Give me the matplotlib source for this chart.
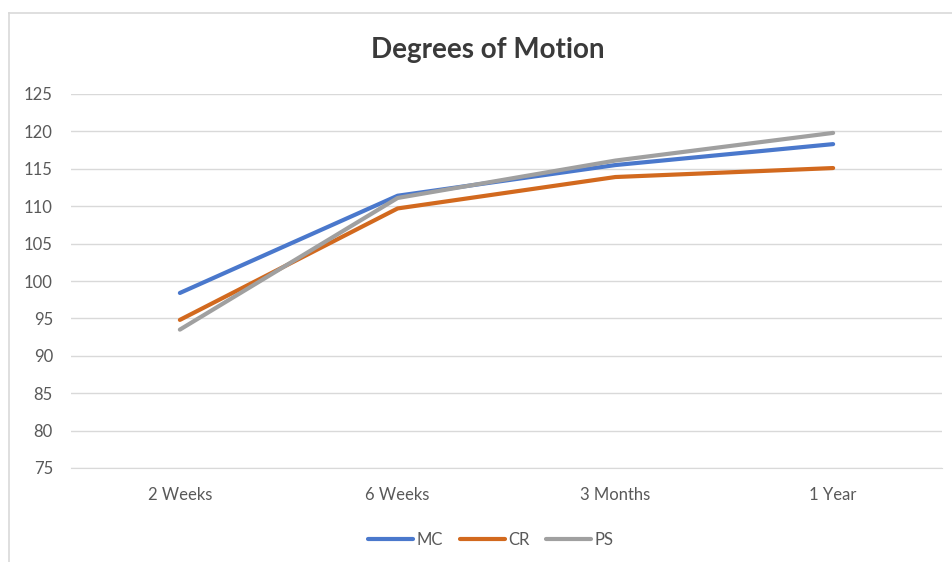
import numpy as np
import matplotlib
matplotlib.use("Agg")
import matplotlib.pyplot as plt
from matplotlib.lines import Line2D

categories = ["2 Weeks", "6 Weeks", "3 Months", "1 Year"]
mc = [98.4, 111.4, 115.5, 118.3]
cr = [94.8, 109.7, 113.9, 115.1]
ps = [93.5, 111.1, 116.1, 119.8]
series_names = ["MC", "CR", "PS"]
colors = ["#4A78CC", "#D2691E", "#A0A0A0"]

plt.rcParams['font.family'] = ['Lato', 'DejaVu Sans']

fig = plt.figure(figsize=(9.53, 5.62), dpi=100)
ax = fig.add_axes([71 / 953, 1 - 468 / 562, (942 - 71) / 953, (468 - 94) / 562])

x = np.arange(len(categories))
for vals, name, c in zip([mc, cr, ps], series_names, colors):
    ax.plot(x, vals, color=c, lw=3, label=name, solid_capstyle="round")

ax.set_xlim(-0.5, len(categories) - 0.5)
ax.set_ylim(75, 125)
ax.set_yticks(np.arange(75, 126, 5))
ax.set_xticks(x)
ax.set_xticklabels(categories)
ax.yaxis.grid(True, color="#D9D9D9", lw=1)
ax.set_axisbelow(True)
for s in ["top", "right", "left"]:
    ax.spines[s].set_visible(False)
ax.spines["bottom"].set_color("#D9D9D9")
ax.tick_params(axis="both", length=0, labelsize=12, colors="#595959")
ax.tick_params(axis="y", pad=13)
ax.tick_params(axis="x", pad=14)

fig.text(0.512, 1 - 50 / 562, "Degrees of Motion", ha="center", va="center",
         fontsize=20, fontweight="bold", color="#3A3A3A")

leg = fig.legend(loc="center", bbox_to_anchor=(0.515, 1 - 540 / 562), ncol=3,
                 frameon=False, fontsize=12, handlelength=2.7,
                 handletextpad=0.2, columnspacing=1.0)
for t in leg.get_texts():
    t.set_color("#595959")

# outer chart border (left and top edges visible)
fig.add_artist(Line2D([9 / 953, 9 / 953], [0, 1 - 13 / 562], color="#D9D9D9", lw=1.2))
fig.add_artist(Line2D([9 / 953, 1], [1 - 13 / 562, 1 - 13 / 562], color="#D9D9D9", lw=1.2))

fig.savefig("out.png", dpi=100)
